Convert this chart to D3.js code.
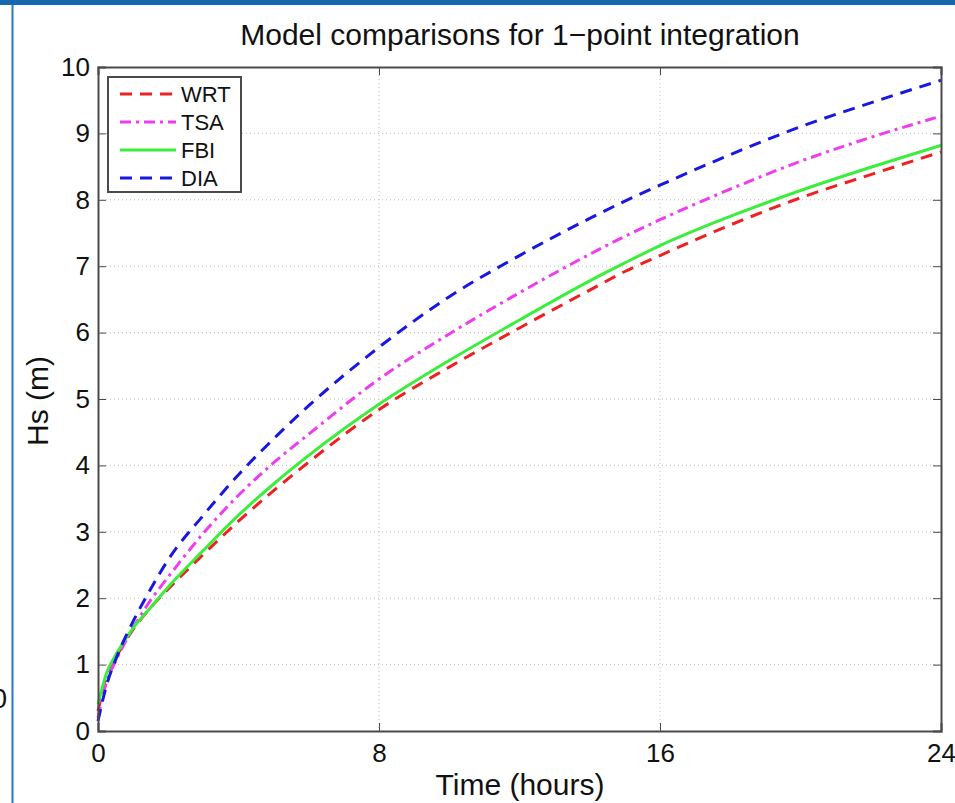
<!DOCTYPE html>
<html>
<head>
<meta charset="utf-8">
<script src="https://cdn.jsdelivr.net/npm/d3@7"></script>
<style>
  html, body { margin: 0; padding: 0; background: #fff; }
  svg { display: block; font-family: "Liberation Sans", Arial, Helvetica, sans-serif; }
</style>
</head>
<body>
<svg id="chart" width="955" height="803"></svg>
<script>
// Sample times (hours)
const times = [0, 0.25, 0.5, 1, 1.5, 2, 3, 4, 5, 6, 8, 10, 12, 14, 15, 16, 18, 20, 22, 24];

// Significant wave height (m) for each source-term model
const wrt = [0.30, 0.85, 1.10, 1.53, 1.86, 2.14, 2.66, 3.16, 3.62, 4.05, 4.84, 5.48, 6.07, 6.64, 6.92, 7.16, 7.62, 8.03, 8.38, 8.72];
const tsa = [0.20, 0.75, 1.05, 1.55, 1.97, 2.32, 2.98, 3.55, 4.04, 4.47, 5.30, 5.98, 6.60, 7.18, 7.45, 7.70, 8.16, 8.58, 8.94, 9.26];
const fbi = [0.40, 0.88, 1.14, 1.55, 1.86, 2.17, 2.72, 3.25, 3.72, 4.15, 4.92, 5.58, 6.19, 6.78, 7.05, 7.31, 7.75, 8.14, 8.49, 8.82];
const dia = [0.15, 0.70, 1.07, 1.65, 2.14, 2.58, 3.25, 3.86, 4.40, 4.90, 5.78, 6.54, 7.16, 7.72, 7.98, 8.22, 8.68, 9.10, 9.46, 9.80];

const xTicks = [0, 8, 16, 24];
const yTicks = [0, 1, 2, 3, 4, 5, 6, 7, 8, 9, 10];

const series = [
  { name: "WRT", values: wrt, color: "#ee2020", dash: "12,8" },
  { name: "TSA", values: tsa, color: "#ee3cee", dash: "11,5,3,5" },
  { name: "FBI", values: fbi, color: "#3cee3c", dash: null },
  { name: "DIA", values: dia, color: "#1818e0", dash: "12,8" }
];

const svg = d3.select("#chart");
const W = 955, H = 803;
const plotL = 98, plotR = 941, plotT = 67, plotB = 731;

const x = d3.scaleLinear().domain([0, 24]).range([plotL, plotR]);
const y = d3.scaleLinear().domain([0, 10]).range([plotB, plotT]);

// window frame
svg.append("rect").attr("x", 0).attr("y", 0).attr("width", W).attr("height", 5).attr("fill", "#1766b0");
svg.append("line").attr("x1", 12.5).attr("x2", 12.5).attr("y1", 5).attr("y2", H)
  .attr("stroke", "#2a78c0").attr("stroke-width", 2);
svg.append("text").attr("x", 7).attr("y", 708).attr("text-anchor", "end")
  .attr("font-size", 27).attr("fill", "#111").text("0");

// grid
const grid = svg.append("g").attr("stroke", "#bdbdbd").attr("stroke-width", 1).attr("stroke-dasharray", "1,3");
grid.selectAll(".gx").data(xTicks.filter(t => t > 0 && t < 24)).join("line")
  .attr("x1", d => x(d)).attr("x2", d => x(d)).attr("y1", plotT).attr("y2", plotB);
grid.selectAll(".gy").data(yTicks.filter(t => t > 0 && t < 10)).join("line")
  .attr("x1", plotL).attr("x2", plotR).attr("y1", d => y(d)).attr("y2", d => y(d));

// curves
const line = d3.line().x((d, i) => x(times[i])).y(d => y(d)).curve(d3.curveMonotoneX);
const lines = svg.append("g").attr("fill", "none");
series.forEach(s => {
  lines.append("path").attr("d", line(s.values))
    .attr("stroke", s.color).attr("stroke-width", 3)
    .attr("stroke-dasharray", s.dash);
});

// axes (inner ticks on all four sides)
const tickLen = 8;
const axisColor = "#4a4a4a";
const bottomAxis = d3.axisBottom(x).tickValues(xTicks).tickSize(-tickLen).tickPadding(13).tickFormat(d3.format("d"));
const topAxis = d3.axisTop(x).tickValues(xTicks).tickSize(-tickLen).tickFormat("");
const leftAxis = d3.axisLeft(y).tickValues(yTicks).tickSize(-tickLen).tickPadding(8).tickFormat(d3.format("d"));
const rightAxis = d3.axisRight(y).tickValues(yTicks).tickSize(-tickLen).tickFormat("");

function style(g) {
  g.selectAll("path.domain").attr("stroke", axisColor).attr("stroke-width", 2);
  g.selectAll(".tick line").attr("stroke", axisColor).attr("stroke-width", 1);
  g.selectAll(".tick text").attr("fill", "#111").attr("font-size", 26)
    .attr("font-family", "'Liberation Sans', Arial, sans-serif");
}
svg.append("g").attr("transform", `translate(0,${plotB})`).call(bottomAxis).call(style);
svg.append("g").attr("transform", `translate(0,${plotT})`).call(topAxis).call(style);
svg.append("g").attr("transform", `translate(${plotL},0)`).call(leftAxis).call(style);
svg.append("g").attr("transform", `translate(${plotR},0)`).call(rightAxis).call(style);

// titles
svg.append("text").attr("x", 520).attr("y", 45).attr("text-anchor", "middle")
  .attr("font-size", 30).attr("fill", "#111").text("Model comparisons for 1\u2212point integration");
svg.append("text").attr("x", 520).attr("y", 795).attr("text-anchor", "middle")
  .attr("font-size", 30).attr("fill", "#111").text("Time (hours)");
svg.append("text").attr("transform", "translate(48,401) rotate(-90)").attr("text-anchor", "middle")
  .attr("font-size", 30).attr("fill", "#111").text("Hs (m)");

// legend
const lg = svg.append("g");
lg.append("rect").attr("x", 108).attr("y", 77).attr("width", 133).attr("height", 115)
  .attr("fill", "#fff").attr("stroke", axisColor).attr("stroke-width", 2);
series.forEach((s, i) => {
  const yy = 94 + i * 28;
  lg.append("line").attr("x1", 120).attr("x2", 176).attr("y1", yy).attr("y2", yy)
    .attr("stroke", s.color).attr("stroke-width", 3).attr("stroke-dasharray", s.dash);
  lg.append("text").attr("x", 181).attr("y", yy + 8).attr("font-size", 22).attr("fill", "#111").text(s.name);
});
</script>
</body>
</html>
